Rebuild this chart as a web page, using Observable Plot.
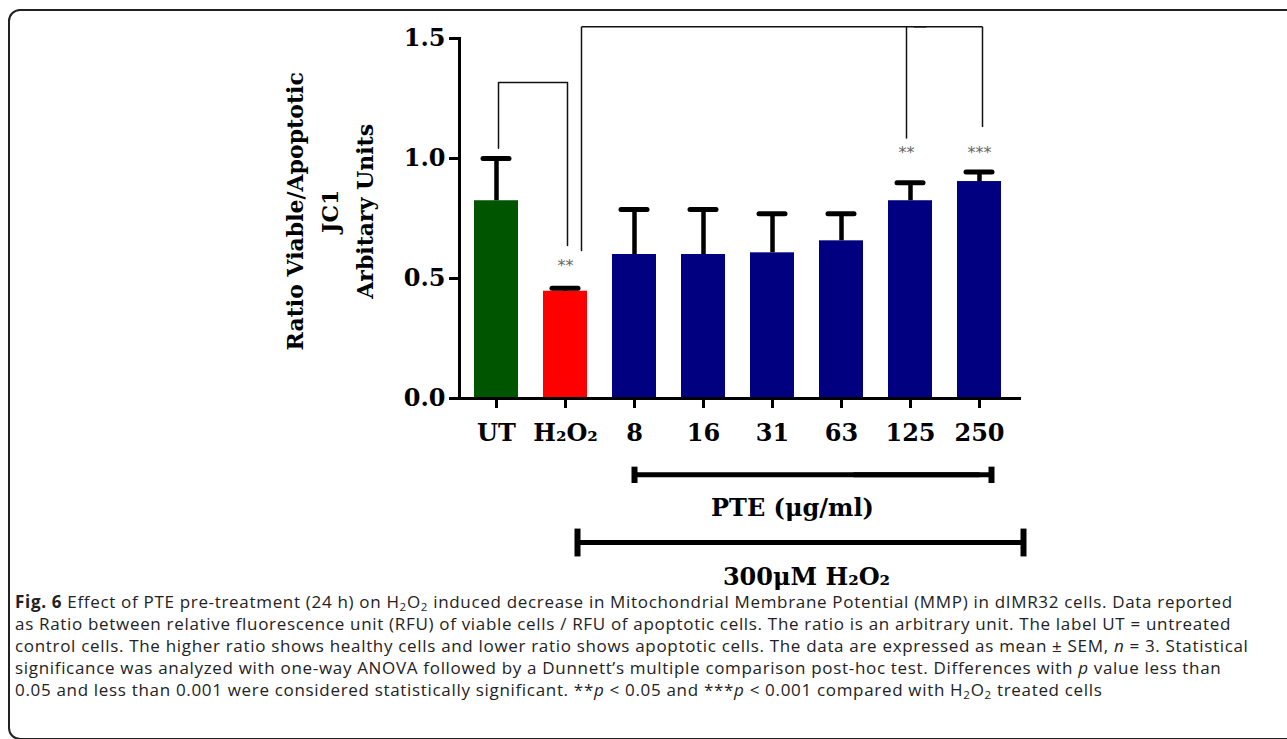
<!DOCTYPE html>
<html><head><meta charset="utf-8">
<script src="https://cdn.jsdelivr.net/npm/d3@7"></script>
<script src="https://cdn.jsdelivr.net/npm/@observablehq/plot@0.6"></script>
<style>
body{margin:0;background:#fff;width:1287px;height:739px;overflow:hidden;position:relative;}
#box{position:absolute;left:8px;top:9px;width:1320px;height:731px;border:2px solid #222;border-radius:12px;box-sizing:border-box;}
#chart{position:absolute;left:0;top:0;}
#caption{position:absolute;left:15px;top:591px;font-family:"Open Sans",sans-serif;font-size:17px;letter-spacing:0.68px;line-height:22px;color:#222;white-space:nowrap;}
#caption sub{font-size:0.68em;vertical-align:-0.25em;line-height:0;}
</style></head><body>
<div id="box"></div>
<div id="chart"></div>
<div id="caption">
<b>Fig. 6</b> Effect of PTE pre-treatment (24 h) on H<sub>2</sub>O<sub>2</sub> induced decrease in Mitochondrial Membrane Potential (MMP) in dIMR32 cells. Data reported<br>
as Ratio between relative fluorescence unit (RFU) of viable cells / RFU of apoptotic cells. The ratio is an arbitrary unit. The label UT = untreated<br>
control cells. The higher ratio shows healthy cells and lower ratio shows apoptotic cells. The data are expressed as mean ± SEM, <i>n</i> = 3. Statistical<br>
significance was analyzed with one-way ANOVA followed by a Dunnett’s multiple comparison post-hoc test. Differences with <i>p</i> value less than<br>
0.05 and less than 0.001 were considered statistically significant. **<i>p</i> &lt; 0.05 and ***<i>p</i> &lt; 0.001 compared with H<sub>2</sub>O<sub>2</sub> treated cells
</div>
<script>
// ---- data ----
const categories = ["UT", "H₂O₂", "8", "16", "31", "63", "125", "250"];
const means      = [0.824, 0.447, 0.600, 0.600, 0.607, 0.657, 0.824, 0.904];
const sems       = [0.176, 0.012, 0.188, 0.188, 0.163, 0.113, 0.075, 0.040];
const barColors  = ["#005500", "#ff0000", "#000080", "#000080", "#000080", "#000080", "#000080", "#000080"];
const yTicks     = [0, 0.5, 1.0, 1.5];
const yLabel     = "Ratio Viable/Apoptotic\nJC1\nArbitary Units";

// significance annotations
const starCats   = ["H₂O₂", "125", "250"];
const starLevels = [0.554, 1.023, 1.023];
const starTexts  = ["**", "**", "***"];
// bracket 1 (UT vs H2O2)
const br1Cats    = ["UT", "UT", "H₂O₂", "H₂O₂"];
const br1Levels  = [1.043, 1.317, 1.317, 0.638];
// bracket 2 (H2O2 vs 125/250)
const br2Top     = 1.549;
const br2Start   = 0.614;   // H2O2 leg bottom
const br2Leg125  = 1.083;
const br2Leg250  = 1.131;
// group bars under the axis
const pteLevel   = -0.318, pteCap = 0.034;
const h2o2Level  = -0.600, h2o2Cap = 0.058;
const pteText    = "PTE (μg/ml)", pteTextLevel = -0.456;
const h2o2Text   = "300μM H₂O₂", h2o2TextLevel = -0.747;

const data = categories.map((c, i) => ({cat: c, mean: means[i], sem: sems[i], color: barColors[i]}));
const stars = starCats.map((c, i) => ({cat: c, y: starLevels[i], t: starTexts[i]}));
const br1 = br1Cats.map((c, i) => ({cat: c, y: br1Levels[i]}));

const seg = (x1, x2, y1, y2) => [{x1, x2, y1, y2}];
const L = {x1: "x1", x2: "x2", y1: "y1", y2: "y2"};
const serif = {fontFamily: "DejaVu Serif", fontWeight: "bold"};
const thin = {stroke: "#111", strokeWidth: 1.5};

const chart = Plot.plot({
  width: 1287, height: 596,
  marginLeft: 459, marginRight: 266, marginTop: 38, marginBottom: 198,
  style: {fontFamily: "DejaVu Serif", fontWeight: "bold", fontSize: "24px", color: "#000", background: "transparent", overflow: "visible"},
  x: {domain: categories, paddingInner: 0.357, paddingOuter: 0.193, align: 0.426, label: null},
  y: {domain: [0, 1.5], label: null},
  color: {type: "identity"},
  marks: [
    Plot.barY(data, {x: "cat", y: "mean", fill: "color"}),
    Plot.ruleX(data, {x: "cat", y1: "mean", y2: d => d.mean + d.sem, strokeWidth: 4.5, stroke: "#000"}),
    Plot.tickY(data, {x: "cat", y: d => d.mean + d.sem, strokeWidth: 5, insetLeft: 9, insetRight: 9, strokeLinecap: "round", stroke: "#000"}),
    Plot.ruleY([0], {strokeWidth: 3, stroke: "#000"}),
    Plot.frame({anchor: "left", strokeWidth: 3, stroke: "#000"}),
    Plot.axisY({ticks: yTicks, tickFormat: d3.format(".1f"), tickSize: 10, tickPadding: 4, strokeWidth: 3, fontSize: 24, label: null}),
    Plot.axisX({tickSize: 10, tickPadding: 15, strokeWidth: 3, fontSize: 24, label: null}),
    // y label (3 lines)
    Plot.text([yLabel], {frameAnchor: "left", y: 0.78, dx: -133, rotate: -90, textAnchor: "middle", lineAnchor: "middle", lineHeight: 1.6, fontSize: 22, ...serif}),
    // bracket UT vs H2O2
    Plot.line(br1, {x: "cat", y: "y", dx: 2, ...thin}),
    // bracket H2O2 vs 125/250
    Plot.link(seg("H₂O₂", "H₂O₂", br2Start, br2Top), {...L, dx: 16, ...thin}),
    Plot.link(seg("H₂O₂", "125", br2Top, br2Top), {...L, dx: 16, ...thin}),
    Plot.link(seg("125", "250", br2Top, br2Top), {...L, dx: 3, ...thin}),
    Plot.link(seg("125", "125", br2Leg125, br2Top), {...L, dx: -4, ...thin}),
    Plot.link(seg("250", "250", br2Leg250, br2Top), {...L, dx: 3, ...thin}),
    // stars
    Plot.text(stars.filter(d => d.cat !== "125"), {x: "cat", y: "y", text: "t", fontFamily: "DejaVu Sans", fontWeight: "normal", fontSize: 16, fill: "#666"}),
    Plot.text(stars.filter(d => d.cat === "125"), {x: "cat", y: "y", text: "t", dx: -4, fontFamily: "DejaVu Sans", fontWeight: "normal", fontSize: 16, fill: "#666"}),
    // PTE group bar
    Plot.link(seg("8", "250", pteLevel, pteLevel), {...L, strokeWidth: 5, stroke: "#000"}),
    Plot.link(seg("63", "250", pteLevel, pteLevel), {...L, dx: 12, strokeWidth: 5, stroke: "#000"}),
    Plot.link(seg("8", "8", pteLevel - pteCap, pteLevel + pteCap), {...L, strokeWidth: 6, stroke: "#000"}),
    Plot.link(seg("250", "250", pteLevel - pteCap, pteLevel + pteCap), {...L, dx: 12, strokeWidth: 6, stroke: "#000"}),
    Plot.text([pteText], {x: () => "31", y: () => pteTextLevel, dx: 20, fontSize: 24, ...serif}),
    // H2O2 group bar
    Plot.link(seg("H₂O₂", "125", h2o2Level, h2o2Level), {...L, dx: 12, strokeWidth: 5, stroke: "#000"}),
    Plot.link(seg("63", "250", h2o2Level, h2o2Level), {...L, dx: 44, strokeWidth: 5, stroke: "#000"}),
    Plot.link(seg("H₂O₂", "H₂O₂", h2o2Level - h2o2Cap, h2o2Level + h2o2Cap), {...L, dx: 12, strokeWidth: 6, stroke: "#000"}),
    Plot.link(seg("250", "250", h2o2Level - h2o2Cap, h2o2Level + h2o2Cap), {...L, dx: 44, strokeWidth: 6, stroke: "#000"}),
    Plot.text([h2o2Text], {x: () => "31", y: () => h2o2TextLevel, dx: 34, fontSize: 24, ...serif})
  ]
});
document.getElementById("chart").appendChild(chart);
</script>
</body></html>
